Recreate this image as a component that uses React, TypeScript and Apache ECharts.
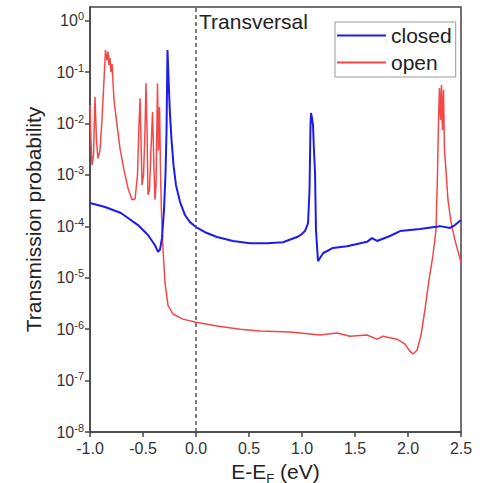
import React, { useEffect, useRef } from "react";
import * as echarts from "echarts";

const closedE = [-1.0, -0.858, -0.708, -0.547, -0.453, -0.387, -0.358, -0.340, -0.321, -0.302, -0.288, -0.278, -0.269, -0.255, -0.245, -0.231, -0.212, -0.189, -0.151, -0.104, -0.057, 0.0, 0.085, 0.198, 0.349, 0.509, 0.670, 0.821, 0.953, 0.991, 1.028, 1.057, 1.071, 1.080, 1.085, 1.094, 1.104, 1.113, 1.123, 1.132, 1.151, 1.198, 1.292, 1.425, 1.613, 1.660, 1.708, 1.830, 1.925, 2.113, 2.302, 2.396, 2.443, 2.5];
const closedT = [2.84e-4, 2.38e-4, 1.82e-4, 1.06e-4, 6.8e-5, 4.3e-5, 3.2e-5, 3.5e-5, 5.9e-5, 2.07e-4, 1.0e-3, 7.5e-3, 0.27, 4.5e-2, 1.46e-2, 4.8e-3, 1.56e-3, 6.4e-4, 3.0e-4, 1.66e-4, 1.21e-4, 9.7e-5, 7.7e-5, 6.2e-5, 5.2e-5, 4.7e-5, 4.7e-5, 4.9e-5, 6.2e-5, 6.9e-5, 8.1e-5, 1.16e-4, 5.1e-4, 9.3e-3, 1.6e-2, 1.28e-2, 9.3e-3, 3.0e-3, 1.09e-3, 8.4e-5, 2.1e-5, 3.0e-5, 3.8e-5, 4.1e-5, 5.0e-5, 5.9e-5, 5.2e-5, 6.5e-5, 8.1e-5, 8.9e-5, 1.01e-4, 9.3e-5, 1.06e-4, 1.33e-4];

const openE = [-1.0, -0.991, -0.981, -0.967, -0.953, -0.939, -0.925, -0.906, -0.887, -0.868, -0.854, -0.840, -0.830, -0.821, -0.811, -0.802, -0.792, -0.774, -0.745, -0.717, -0.679, -0.642, -0.604, -0.575, -0.552, -0.538, -0.528, -0.519, -0.509, -0.495, -0.481, -0.472, -0.462, -0.453, -0.439, -0.425, -0.410, -0.396, -0.387, -0.377, -0.363, -0.354, -0.344, -0.335, -0.325, -0.311, -0.292, -0.264, -0.217, -0.123, 0.0, 0.198, 0.415, 0.604, 0.887, 1.170, 1.330, 1.453, 1.613, 1.708, 1.764, 1.896, 1.972, 2.019, 2.047, 2.085, 2.123, 2.160, 2.198, 2.236, 2.264, 2.278, 2.288, 2.297, 2.307, 2.316, 2.325, 2.335, 2.344, 2.358, 2.377, 2.406, 2.443, 2.5];
const openT = [2.3e-2, 4.8e-3, 1.56e-3, 2.4e-3, 3.3e-2, 4.8e-3, 2.1e-3, 3.0e-3, 1.17e-2, 7.0e-2, 0.27, 0.17, 0.25, 0.137, 0.19, 0.10, 0.144, 2.9e-2, 9.3e-3, 3.3e-3, 1.24e-3, 5.6e-4, 3.3e-4, 3.4e-4, 1.0e-3, 9.3e-3, 3.1e-2, 4.8e-3, 6.4e-4, 1.0e-3, 7.5e-3, 6.1e-2, 7.5e-3, 4.1e-4, 5.1e-4, 3.0e-3, 1.67e-2, 1.24e-3, 3.3e-4, 6.4e-4, 6.1e-2, 3.0e-3, 2.1e-2, 1.24e-3, 1.66e-4, 3.5e-5, 7.9e-6, 2.9e-6, 1.97e-6, 1.57e-6, 1.37e-6, 1.15e-6, 1.0e-6, 9.2e-7, 8.8e-7, 7.7e-7, 8.4e-7, 7.3e-7, 7.7e-7, 6.4e-7, 7.3e-7, 6.4e-7, 5.1e-7, 3.7e-7, 3.3e-7, 3.9e-7, 7.7e-7, 2.4e-6, 9.0e-6, 2.8e-5, 8.5e-5, 1.0e-3, 1.17e-2, 4.9e-2, 1.17e-2, 5.6e-2, 7.5e-3, 4.5e-2, 3.0e-3, 1.24e-3, 3.3e-4, 1.2e-4, 5.4e-5, 2.0e-5];

const yDecades = [-8, -7, -6, -5, -4, -3, -2, -1, 0];

const FONT = "'Liberation Sans', Arial, sans-serif";

export default function App() {
  const ref = useRef<HTMLDivElement>(null);
  useEffect(() => {
    if (!ref.current) return;
    const chart = echarts.init(ref.current, undefined, { renderer: "svg" });
    const toPts = (xs: number[], ts: number[]) => xs.map((x, i) => [x, Math.log10(ts[i])]);
    chart.setOption({
      animation: false,
      textStyle: { fontFamily: FONT },
      grid: {
        left: 90,
        right: 27,
        top: 7,
        bottom: 51,
        outerBoundsMode: "none",
        containLabel: false,
        show: true,
        borderColor: "#444",
        borderWidth: 1.5,
        backgroundColor: "transparent",
      },
      legend: {
        left: 335,
        top: 22,
        orient: "vertical",
        data: ["closed", "open"],
        icon: "rect",
        itemWidth: 49,
        itemHeight: 2,
        itemGap: 6,
        padding: [3, 4, 4, 2],
        borderColor: "#999",
        borderWidth: 1,
        textStyle: { fontSize: 21, color: "#222", fontFamily: FONT },
      },
      xAxis: {
        type: "value",
        min: -1,
        max: 2.5,
        interval: 0.5,
        splitLine: { show: false },
        axisLine: { onZero: false, lineStyle: { color: "#444", width: 1.5 } },
        axisTick: { show: true, inside: false, length: 5, lineStyle: { color: "#444", width: 1.5 } },
        axisLabel: {
          fontSize: 16,
          color: "#333",
          margin: 8,
          fontFamily: FONT,
          formatter: (v: number) => v.toFixed(1),
          showMinLabel: true,
          showMaxLabel: true,
        },
        name: "{a|E-E}{f|F}{a| (eV)}",
        nameLocation: "middle",
        nameGap: 23,
        nameTextStyle: {
          rich: {
            a: { fontSize: 21, color: "#222", fontFamily: FONT, lineHeight: 22 },
            f: { fontSize: 13, color: "#222", fontFamily: FONT, lineHeight: 12, verticalAlign: "bottom", padding: [0, 0, -3, 0] },
          },
        },
      },
      yAxis: {
        type: "value",
        min: -8,
        max: 0.267,
        interval: 1,
        splitLine: { show: false },
        axisLine: { onZero: false, lineStyle: { color: "#444", width: 1.5 } },
        axisTick: { show: true, inside: false, length: 5, customValues: yDecades, lineStyle: { color: "#444", width: 1.5 } },
        axisLabel: {
          margin: 6,
          customValues: yDecades,
          formatter: (v: number) => (Number.isInteger(v) ? `{b|10}{s|${v}}` : ""),
          rich: {
            b: { fontSize: 16, color: "#333", fontFamily: FONT, lineHeight: 20 },
            s: { fontSize: 11, color: "#333", fontFamily: FONT, lineHeight: 12, verticalAlign: "top" },
          },
        },
        name: "Transmission probability",
        nameLocation: "middle",
        nameGap: 46,
        nameRotate: 90,
        nameTextStyle: { fontSize: 21, color: "#222", fontFamily: FONT },
      },
      graphic: [
        {
          type: "text",
          left: 199,
          top: 11,
          style: { text: "Transversal", fontSize: 21, fill: "#222", fontFamily: FONT },
        },
      ],
      series: [
        {
          name: "closed",
          type: "line",
          data: toPts(closedE, closedT),
          symbol: "none",
          showSymbol: false,
          z: 4,
          itemStyle: { color: "#1c1cf0" },
          lineStyle: { color: "#1c1cf0", width: 2 },
          markLine: {
            silent: true,
            symbol: "none",
            label: { show: false },
            lineStyle: { color: "#555", width: 1.5, type: [4, 3] },
            data: [{ xAxis: 0 }],
          },
        },
        {
          name: "open",
          type: "line",
          data: toPts(openE, openT),
          symbol: "none",
          showSymbol: false,
          z: 3,
          itemStyle: { color: "#f24848" },
          lineStyle: { color: "#f24848", width: 1.5 },
        },
      ],
    });
    return () => chart.dispose();
  }, []);
  return (
    <div
      ref={ref}
      style={{ position: "fixed", left: 0, top: 0, width: 488, height: 483, background: "#fff" }}
    />
  );
}
